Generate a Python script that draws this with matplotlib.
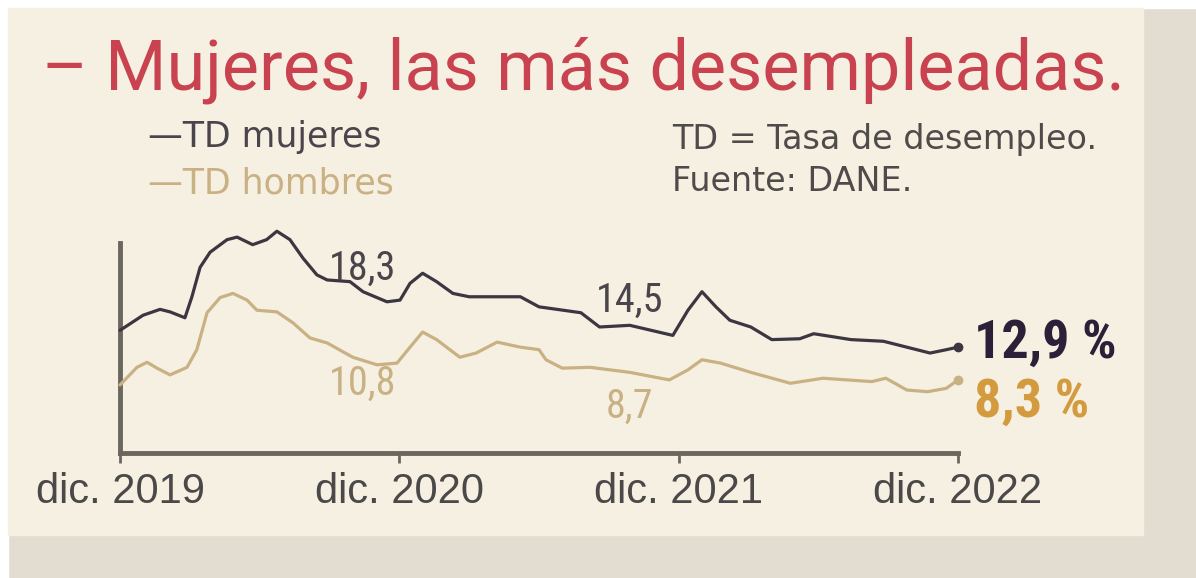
import matplotlib
matplotlib.use("Agg")
import matplotlib.pyplot as plt
from matplotlib.patches import Rectangle

# ---- data (months since dic. 2019, unemployment rate %) ----
mujeres_mes = [0, 0.99, 1.72, 2.15, 2.79, 3.09, 3.44, 3.87, 4.6, 5.03, 5.7, 6.3, 6.74, 7.3,
               7.86, 8.46, 8.9, 9.88, 10.44, 11.47, 12.03, 12.46, 13.0, 13.6, 14.3, 15.0,
               17.2, 18.0, 19.8, 20.6, 21.9, 23.75, 24.4, 25.0, 25.6, 26.2, 27.1, 28.0,
               29.2, 29.8, 31.4, 32.8, 33.8, 34.8, 35.5, 36]
mujeres_td = [14.6, 16.4, 17.1, 16.8, 16.1, 18.6, 22.1, 23.9, 25.4, 25.7, 24.8, 25.4, 26.4, 25.4,
              23.2, 21.2, 20.6, 20.4, 19.2, 18.0, 18.2, 20.2, 21.4, 20.4, 19.0, 18.6,
              18.6, 17.4, 16.7, 15.0, 15.2, 14.0, 17.0, 19.2, 17.4, 15.8, 15.0, 13.5,
              13.6, 14.2, 13.5, 13.3, 12.6, 11.9, 12.3, 12.6]
hombres_mes = [0, 0.73, 1.16, 1.59, 2.15, 2.88, 3.3, 3.74, 4.3, 4.85, 5.46, 5.88, 6.74, 7.43,
               8.16, 8.9, 10.0, 11.04, 11.9, 12.46, 13.0, 13.6, 14.6, 15.3, 16.2, 17.2,
               18.0, 18.3, 19.0, 20.2, 21.9, 23.6, 24.4, 25.0, 25.8, 27.1, 28.8, 30.2,
               32.3, 32.9, 33.8, 34.7, 35.5, 36]
hombres_td = [8.1, 10.2, 10.8, 10.1, 9.3, 10.2, 12.3, 16.7, 18.5, 19.0, 18.2, 17.0, 16.8, 15.5,
              13.7, 13.1, 11.4, 10.5, 10.7, 12.6, 14.4, 13.5, 11.4, 11.9, 13.2, 12.6,
              12.3, 11.1, 10.1, 10.2, 9.6, 8.7, 9.9, 11.1, 10.7, 9.6, 8.3, 8.9,
              8.5, 8.9, 7.5, 7.3, 7.7, 8.7]
tick_pos = [0, 12, 24, 36]
tick_labels = ["dic. 2019", "dic. 2020", "dic. 2021", "dic. 2022"]
anot_mujeres = [(10.4, 22.0, "18,3"), (21.9, 18.2, "14,5")]
anot_hombres = [(10.4, 8.3, "10,8"), (21.9, 5.6, "8,7")]
final_mujeres = "12,9 %"
final_hombres = "8,3 %"

C_MUJ = "#3b3640"
C_HOM = "#c9b183"
C_TITLE = "#c9424f"
C_AXIS = "#6a675f"
C_PANEL = "#f5f0e2"
C_OUTER = "#e3dcd0"

W, H = 1196, 578
fig = plt.figure(figsize=(W / 100, H / 100), dpi=100)
fig.patch.set_facecolor(C_OUTER)

def fx(px):
    return px / W

def fy(py):
    return 1 - py / H

# white strips and cream panel
fig.add_artist(Rectangle((0, fy(8)), 1, 8 / H, transform=fig.transFigure, color="white", zorder=0))
fig.add_artist(Rectangle((0, 0), 8 / W, 1, transform=fig.transFigure, color="white", zorder=0))
fig.add_artist(Rectangle((fx(8), fy(535)), (1143 - 8) / W, (535 - 8) / H,
                         transform=fig.transFigure, color=C_PANEL, zorder=0))

COND = ["Roboto Condensed", "Roboto", "DejaVu Sans"]
ROBO = ["Roboto", "DejaVu Sans"]
SANS = ["Liberation Sans", "DejaVu Sans"]
GEO = ["DejaVu Sans"]

# title
fig.text(fx(42), fy(70), "– Mujeres, las más desempleadas.", color=C_TITLE,
         fontsize=50.5, family=ROBO, va="center", ha="left")

# legend-like header
fig.text(fx(148), fy(137), "—TD mujeres", color="#4a454b", fontsize=25, family=GEO, va="center")
fig.text(fx(148), fy(183), "—TD hombres", color=C_HOM, fontsize=25, family=GEO, va="center")
fig.text(fx(672), fy(140), "TD = Tasa de desempleo.", color="#4f4b4b", fontsize=24, family=GEO, va="center")
fig.text(fx(672), fy(182), "Fuente: DANE.", color="#4f4b4b", fontsize=24, family=GEO, va="center")

# axes: x from 120 to 958 px, y=0 at 453 px, 8.4 px per point
y_top = 28
ax = fig.add_axes([fx(120), fy(453), (958 - 120) / W, (y_top * 8.4) / H])
ax.set_facecolor("none")
ax.set_xlim(0, 36)
ax.set_ylim(0, y_top)

ax.plot(mujeres_mes, mujeres_td, color=C_MUJ, lw=2.3, solid_joinstyle="round",
        solid_capstyle="round", clip_on=False, zorder=3)
ax.plot(hombres_mes, hombres_td, color=C_HOM, lw=2.3, solid_joinstyle="round",
        solid_capstyle="round", clip_on=False, zorder=3)
ax.plot([mujeres_mes[-1]], [mujeres_td[-1]], "o", color=C_MUJ, ms=6, clip_on=False, zorder=4)
ax.plot([hombres_mes[-1]], [hombres_td[-1]], "o", color=C_HOM, ms=6, clip_on=False, zorder=4)

for spine in ["top", "right"]:
    ax.spines[spine].set_visible(False)
for spine in ["left", "bottom"]:
    ax.spines[spine].set_color(C_AXIS)
    ax.spines[spine].set_linewidth(3.5)
ax.spines["left"].set_bounds(0, 25)

ax.set_yticks([])
ax.set_xticks(tick_pos)
ax.set_xticklabels(tick_labels, family=SANS, fontsize=30, color="#4a4848")
ax.tick_params(axis="x", length=7, width=2, color=C_AXIS, pad=7)

# annotations
for x, y, t in anot_mujeres:
    ax.text(x, y, t, color="#4a454b", fontsize=29, family=COND, ha="center", va="center")
for x, y, t in anot_hombres:
    ax.text(x, y, t, color=C_HOM, fontsize=29, family=COND, ha="center", va="center")

ax.text(36.7, 13.0, final_mujeres, color="#2d1f38", fontsize=39, family=COND,
        weight="bold", ha="left", va="center", clip_on=False)
ax.text(36.7, 6.0, final_hombres, color="#d39a3e", fontsize=39, family=COND,
        weight="bold", ha="left", va="center", clip_on=False)

fig.savefig("out.png", dpi=100, facecolor=fig.get_facecolor())
